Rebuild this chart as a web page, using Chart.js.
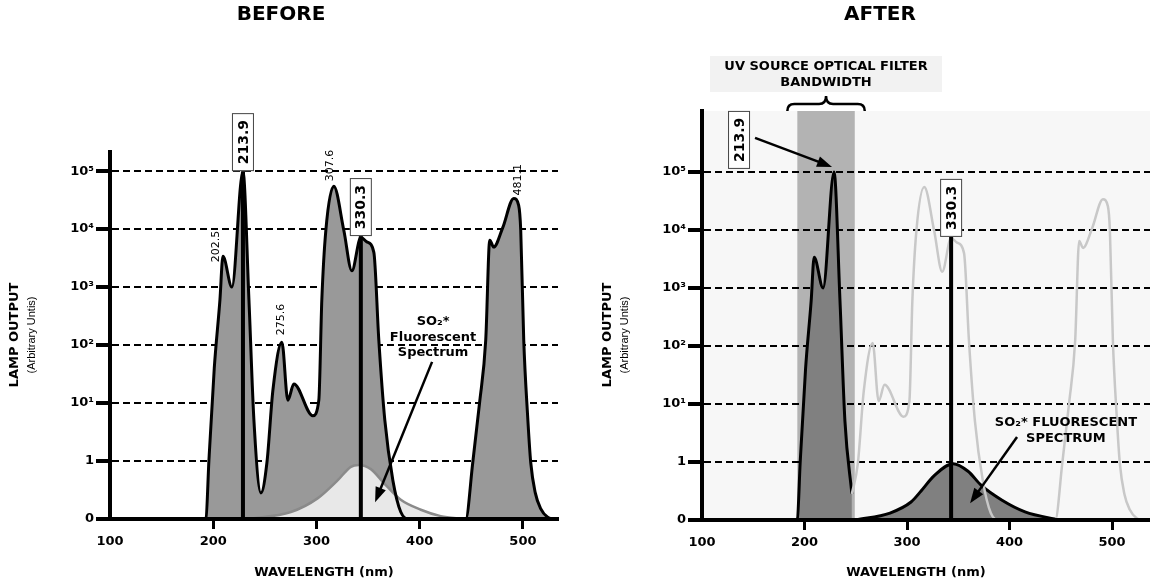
<!DOCTYPE html>
<html>
<head>
<meta charset="utf-8">
<script src="https://cdn.jsdelivr.net/npm/chart.js@4.4.1/dist/chart.umd.min.js"></script>
<style>
  body { margin: 0; background: #fff; }
  canvas { position: absolute; top: 0; }
  #before { left: 0; }
  #after { left: 575px; }
</style>
</head>
<body>
<canvas id="before" width="575" height="587"></canvas>
<canvas id="after" width="575" height="587"></canvas>
<script>
'use strict'
// level: 0 = none, 1 = 1, 2 = 10^1 ... 6 = 10^5
const wavelengthTicks = [100, 200, 300, 400, 500]
const levelTicks = [0, 1, 2, 3, 4, 5, 6]
const levelLabels = ['0', '1', '10¹', '10²', '10³', '10⁴', '10⁵']

// lamp spectrum
const lampNm = [190, 193, 195.8, 201, 206.5, 209.4, 218.1, 228.8, 234.6, 239.4,
    246.2, 252, 257.8, 266.5, 272.3, 278.1, 296.5, 302.3, 305.2, 309.1,
    316.8, 326.5, 334.3, 343, 348.8, 355.6, 360.4, 366.2, 374, 381.7,
    389.5, 444.6, 451.4, 458, 464, 467.9, 471.7, 480.4, 491.1, 495.9,
    497.9, 500.8, 504.5, 507.6, 512, 517.2, 524, 529.8]
const lampLevel = [0, 0.02, 1.0, 2.6, 3.78, 4.53, 4.0, 6.0, 3.78, 1.71,
    0.45, 0.97, 2.22, 3.05, 2.05, 2.33, 1.78, 2.05, 3.78, 4.98,
    5.74, 4.98, 4.28, 4.86, 4.78, 4.6, 3.09, 1.71, 0.67, 0.12,
    0, 0, 0.97, 2.0, 3.09, 4.81, 4.69, 5.02, 5.53, 5.41,
    4.98, 3.09, 1.8, 0.97, 0.45, 0.18, 0.03, 0]

// SO2* fluorescent spectrum
const so2BeforeNm = [233.6, 275.2, 301.4, 320.7, 333.3, 341, 352.7, 365.3, 381.7, 401.1, 420.4, 442.7]
const so2BeforeLevel = [0, 0.12, 0.36, 0.67, 0.9, 0.93, 0.86, 0.62, 0.33, 0.16, 0.05, 0]
const so2AfterNm = [250.2, 283.4, 303.9, 313.7, 326.3, 344.9, 359.5, 372.2, 392.7, 415.1, 448.5]
const so2AfterLevel = [0, 0.12, 0.31, 0.5, 0.76, 0.97, 0.84, 0.6, 0.34, 0.14, 0]

const peakNames = ['202.5', '275.6', '307.6', '481.1']
const peakNm = [209.4, 266.5, 316.8, 491.1]
const peakLevel = [4.53, 3.05, 5.74, 5.53]

const markedNames = ['213.9', '330.3']
const markedNm = [228.8, 343]
const markedTop = [6.0, 4.88]

const filterBand = [193, 249]

const FONT = 'DejaVu Sans'
const tickFont = { family: FONT, weight: 'bold', size: 13 }

const toPoints = (xs, ys) => xs.map((x, i) => ({ x: x, y: ys[i] }))
const lampPoints = toPoints(lampNm, lampLevel)
const darkCount = lampPoints.filter((p) => p.x <= filterBand[1]).length

const curve = function(data, extra) {
    return Object.assign({
        data: data,
        pointRadius: 0,
        cubicInterpolationMode: 'monotone',
        fill: false,
        borderWidth: 3,
        borderColor: '#000',
    }, extra)
}
const markerLine = function(i) {
    let pts = [{ x: markedNm[i], y: 0 }, { x: markedNm[i], y: markedTop[i] }]
    return curve(pts, { order: 0, borderWidth: 4, cubicInterpolationMode: 'default', tension: 0 })
}

const axes = function(xMax, yMax, yWidth, xHeight) {
    return {
        x: {
            type: 'linear', min: 100, max: xMax,
            afterBuildTicks: (s) => { s.ticks = wavelengthTicks.map((value) => ({ value })) },
            afterFit: (s) => { s.height = xHeight },
            grid: {
                drawOnChartArea: false, tickLength: 10, tickWidth: 3,
                tickColor: (c) => (c.tick && c.tick.value === 100) ? 'rgba(0,0,0,0)' : '#000',
            },
            border: { color: '#000', width: 4, z: 1 },
            ticks: { color: '#000', font: tickFont, padding: 5, maxRotation: 0, callback: (v) => String(v) },
        },
        y: {
            type: 'linear', min: 0, max: yMax,
            afterBuildTicks: (s) => { s.ticks = levelTicks.map((value) => ({ value })) },
            afterFit: (s) => { s.width = yWidth },
            grid: {
                color: (c) => (c.tick && c.tick.value === 0) ? 'rgba(0,0,0,0)' : '#000',
                lineWidth: 2, tickColor: '#000', tickLength: 14, tickWidth: 4,
            },
            border: { color: '#000', width: 4, dash: [7, 4], z: 1 },
            ticks: { color: '#000', font: tickFont, padding: 2, callback: (v) => levelLabels[v] },
        },
    }
}

const pos = (chart, nm, level) => [chart.scales.x.getPixelForValue(nm), chart.scales.y.getPixelForValue(level)]

const drawText = function(ctx, str, x, y, font, align, rotate) {
    ctx.save()
    ctx.font = font
    ctx.fillStyle = '#000'
    ctx.textAlign = align || 'center'
    ctx.textBaseline = 'middle'
    ctx.translate(x, y)
    if (rotate) ctx.rotate(-Math.PI / 2)
    ctx.fillText(str, 0, 0)
    ctx.restore()
}

const drawArrow = function(ctx, x1, y1, x2, y2) {
    let a = Math.atan2(y2 - y1, x2 - x1)
    let len = 15, half = 5.5
    let bx = x2 - len * Math.cos(a), by = y2 - len * Math.sin(a)
    ctx.save()
    ctx.strokeStyle = '#000'
    ctx.fillStyle = '#000'
    ctx.lineWidth = 2.5
    ctx.beginPath()
    ctx.moveTo(x1, y1)
    ctx.lineTo(bx + 3 * Math.cos(a), by + 3 * Math.sin(a))
    ctx.stroke()
    ctx.beginPath()
    ctx.moveTo(x2, y2)
    ctx.lineTo(bx + half * Math.sin(a), by - half * Math.cos(a))
    ctx.lineTo(bx - half * Math.sin(a), by + half * Math.cos(a))
    ctx.closePath()
    ctx.fill()
    ctx.restore()
}

const drawBox = function(ctx, str, cx, bottom) {
    let w = 22, h = 58
    ctx.save()
    ctx.fillStyle = '#fff'
    ctx.strokeStyle = '#444'
    ctx.lineWidth = 1
    ctx.fillRect(cx - w / 2, bottom - h, w, h)
    ctx.strokeRect(cx - w / 2 + 0.5, bottom - h + 0.5, w - 1, h - 1)
    ctx.restore()
    drawText(ctx, str, cx + 1, bottom - h / 2, `bold 14px ${FONT}`, 'center', true)
}

const drawTitles = function(chart, title, titleX, sideX) {
    let ctx = chart.ctx
    let area = chart.chartArea
    drawText(ctx, title, titleX, 15, `bold 20px ${FONT}`)
    drawText(ctx, 'WAVELENGTH (nm)', (area.left + area.right) / 2 - 10, 573, `bold 13px ${FONT}`)
    drawText(ctx, 'LAMP OUTPUT', sideX, 335, `bold 13px ${FONT}`, 'center', true)
    drawText(ctx, '(Arbitrary Untis)', sideX + 17, 335, '11px "Liberation Sans"', 'center', true)
}

// label offsets for the small peak names (px)
const peakOffsets = [[-7, 6], [-1, -7], [-4, -5], [4, -3]]

const beforeNotes = {
    id: 'beforeNotes',
    afterDraw(chart) {
        let ctx = chart.ctx
        drawTitles(chart, 'BEFORE', 281, 15)
        markedNames.forEach((name, i) => {
            let [x, y] = pos(chart, markedNm[i], markedTop[i])
            drawBox(ctx, name, x, y)
        })
        peakNames.forEach((name, i) => {
            let [x, y] = pos(chart, peakNm[i], peakLevel[i])
            drawText(ctx, name, x + peakOffsets[i][0], y + peakOffsets[i][1], `11px ${FONT}`, 'left', true)
        })
        let [tx, ty] = pos(chart, 413, 3.4)
        drawText(ctx, 'SO₂*', tx, ty, `bold 13px ${FONT}`)
        drawText(ctx, 'Fluorescent', tx, ty + 16, `bold 13px ${FONT}`)
        drawText(ctx, 'Spectrum', tx, ty + 31, `bold 13px ${FONT}`)
        let [ax, ay] = pos(chart, 412, 2.71)
        let [bx, by] = pos(chart, 356.8, 0.29)
        drawArrow(ctx, ax, ay, bx, by)
    },
}

const afterNotes = {
    id: 'afterNotes',
    beforeDraw(chart) {
        let ctx = chart.ctx
        let area = chart.chartArea
        let x0 = chart.scales.x.getPixelForValue(filterBand[0])
        let x1 = chart.scales.x.getPixelForValue(filterBand[1])
        ctx.save()
        ctx.fillStyle = '#f7f7f7'
        ctx.fillRect(area.left, area.top, area.right - area.left, area.bottom - area.top)
        ctx.fillStyle = '#b3b3b3'
        ctx.fillRect(x0, area.top, x1 - x0, area.bottom - area.top)
        ctx.restore()
    },
    afterDraw(chart) {
        let ctx = chart.ctx
        let area = chart.chartArea
        drawTitles(chart, 'AFTER', 305, 33)

        // filter band label and brace
        let x0 = chart.scales.x.getPixelForValue(filterBand[0])
        let x1 = chart.scales.x.getPixelForValue(filterBand[1])
        let c = (x0 + x1) / 2
        ctx.save()
        ctx.fillStyle = '#f2f2f2'
        ctx.fillRect(c - 116, 56, 232, 36)
        ctx.restore()
        drawText(ctx, 'UV SOURCE OPTICAL FILTER', c, 67, `bold 13px ${FONT}`)
        drawText(ctx, 'BANDWIDTH', c, 83, `bold 13px ${FONT}`)
        let l = x0 - 10, r = x1 + 10, yb = area.top, ym = area.top - 7, yt = area.top - 15
        ctx.save()
        ctx.strokeStyle = '#000'
        ctx.lineWidth = 2.5
        ctx.beginPath()
        ctx.moveTo(l, yb)
        ctx.quadraticCurveTo(l, ym, l + 7, ym)
        ctx.lineTo(c - 7, ym)
        ctx.quadraticCurveTo(c, ym, c, yt)
        ctx.quadraticCurveTo(c, ym, c + 7, ym)
        ctx.lineTo(r - 7, ym)
        ctx.quadraticCurveTo(r, ym, r, yb)
        ctx.stroke()
        ctx.restore()

        // 213.9 peak: box off to the left with an arrow
        let [px, py] = pos(chart, markedNm[0], markedTop[0])
        let bcx = px - 95, bbot = py - 3
        drawBox(ctx, markedNames[0], bcx, bbot)
        drawArrow(ctx, bcx + 16, bbot - 31, px - 2, py - 5)

        let [mx, my] = pos(chart, markedNm[1], markedTop[1])
        drawBox(ctx, markedNames[1], mx, my)

        let [tx, ty] = pos(chart, 455, 1.67)
        drawText(ctx, 'SO₂* FLUORESCENT', tx, ty, `bold 13px ${FONT}`)
        drawText(ctx, 'SPECTRUM', tx, ty + 16, `bold 13px ${FONT}`)
        let [ax, ay] = pos(chart, 407.3, 1.43)
        let [bx, by] = pos(chart, 361.5, 0.29)
        drawArrow(ctx, ax, ay, bx, by)
    },
}

const baseOptions = function(scales, padding) {
    return {
        responsive: false,
        animation: false,
        events: [],
        layout: { padding: padding },
        plugins: { legend: { display: false }, tooltip: { enabled: false } },
        scales: scales,
    }
}

new Chart(document.getElementById('before'), {
    type: 'line',
    data: {
        datasets: [
            markerLine(0),
            markerLine(1),
            curve(lampPoints, { order: 1 }),
            curve(toPoints(so2BeforeNm, so2BeforeLevel), {
                order: 2, fill: 'origin', backgroundColor: '#e8e8e8', borderColor: '#8a8a8a', borderWidth: 2.5,
            }),
            curve(lampPoints, { order: 3, fill: 'origin', backgroundColor: '#999999', borderColor: 'rgba(0,0,0,0)' }),
        ],
    },
    options: baseOptions(axes(534, 6.33, 110, 68), { top: 152, right: 17, left: 0, bottom: 0 }),
    plugins: [beforeNotes],
})

new Chart(document.getElementById('after'), {
    type: 'line',
    data: {
        datasets: [
            markerLine(1),
            curve(lampPoints.slice(darkCount - 1), { order: 1, borderColor: '#c8c8c8', borderWidth: 2.5 }),
            curve(toPoints(so2AfterNm, so2AfterLevel), { order: 2, fill: 'origin', backgroundColor: '#808080' }),
            curve(lampPoints.slice(0, darkCount), { order: 3, fill: 'origin', backgroundColor: '#808080' }),
        ],
    },
    options: baseOptions(axes(537, 7.05, 127, 67), { top: 111, right: 0, left: 0, bottom: 0 }),
    plugins: [afterNotes],
})
</script>
</body>
</html>
